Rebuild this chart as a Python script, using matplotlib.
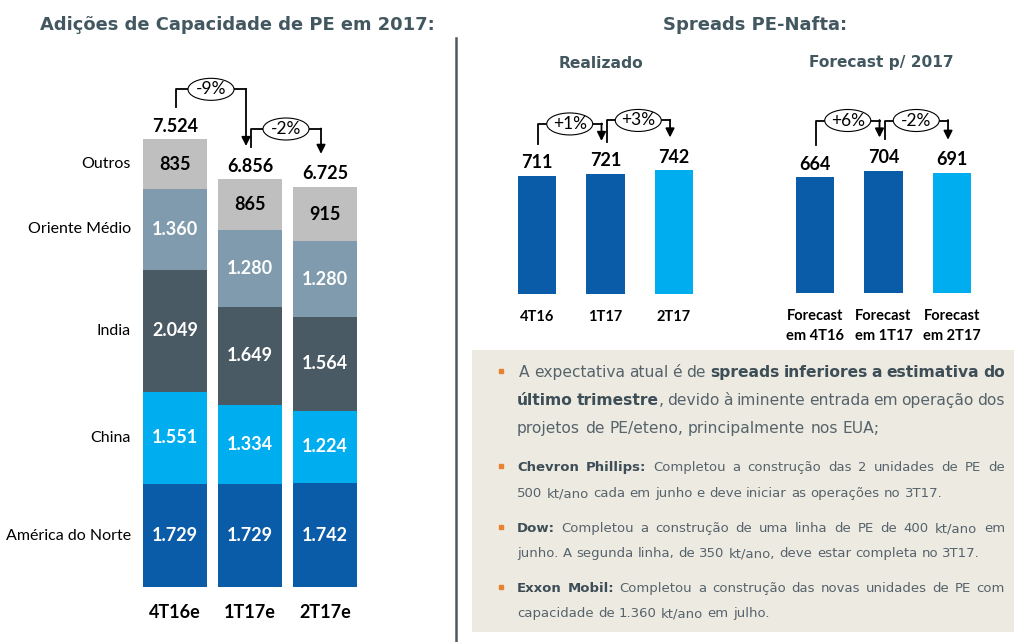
import matplotlib
matplotlib.use('Agg')
import matplotlib.pyplot as plt
from matplotlib.patches import Ellipse, Rectangle
import numpy as np

W, H = 1023, 642

# --- dados: adições de capacidade de PE (kt/ano) ---
periodos = ['4T16e', '1T17e', '2T17e']
regioes = ['América do Norte', 'China', 'India', 'Oriente Médio', 'Outros']
america_norte = [1729, 1729, 1742]
china = [1551, 1334, 1224]
india = [2049, 1649, 1564]
oriente_medio = [1360, 1280, 1280]
outros = [835, 865, 915]
totais = [7524, 6856, 6725]

# --- dados: spreads PE-Nafta (US$/t) ---
real_labels = ['4T16', '1T17', '2T17']
real_vals = [711, 721, 742]
fc_labels = ['Forecast\nem 4T16', 'Forecast\nem 1T17', 'Forecast\nem 2T17']
fc_vals = [664, 704, 691]

texto = [
    (11.2, [' A expectativa atual é de **spreads inferiores a estimativa do**',
            '**último trimestre**, devido à iminente entrada em operação dos',
            'projetos de PE/eteno, principalmente nos EUA;']),
    (9.5, ['**Chevron Phillips:** Completou a construção das 2 unidades de PE de',
           '500 kt/ano cada em junho e deve iniciar as operações no 3T17.']),
    (9.5, ['**Dow:** Completou a construção de uma linha de PE de 400 kt/ano em',
           'junho. A segunda linha, de 350 kt/ano, deve estar completa no 3T17.']),
    (9.5, ['**Exxon Mobil:** Completou a construção das novas unidades de PE com',
           'capacidade de 1.360 kt/ano em julho.']),
]

AZUL = '#0B5CA8'
AZUL_CLARO = '#00AEEF'
cores_regioes = [AZUL, AZUL_CLARO, '#4A5A65', '#7F9BAD', '#BFBFBF']
COR_TITULO = '#42575F'
FONTE = 'Lato'
FONTE_TXT = 'DejaVu Sans'


def fmt(v):
    return f'{v:,}'.replace(',', '.')


def px_rect(x0, y0, x1, y1):
    return [x0 / W, 1 - y1 / H, (x1 - x0) / W, (y1 - y0) / H]


fig = plt.figure(figsize=(W / 100, H / 100), dpi=100)

# ---------- grafico empilhado ----------
ax = fig.add_axes(px_rect(130, 60, 370, 587))
x = np.arange(len(periodos))
larg = 64 / 75
base = np.zeros(len(periodos))
for nome, vals, cor in zip(regioes, [america_norte, china, india, oriente_medio, outros], cores_regioes):
    ax.bar(x, vals, larg, bottom=base, color=cor)
    cor_txt = 'black' if nome == 'Outros' else 'white'
    for i, v in enumerate(vals):
        ax.text(i, base[i] + v / 2, fmt(v), ha='center', va='center', color=cor_txt,
                fontsize=13, fontweight='bold', family=FONTE)
    ax.annotate(nome, (-larg / 2, base[0] + vals[0] / 2), xytext=(-12 * 0.72, 0),
                textcoords='offset points', ha='right', va='center', fontsize=11.5, family=FONTE)
    base += vals
topos_esq = base.copy()
for i, t in enumerate(totais):
    ax.annotate(fmt(t), (i, topos_esq[i]), xytext=(0, 13 * 0.72), textcoords='offset points',
                ha='center', va='center', fontsize=13, fontweight='bold', family=FONTE)
ax.set_xlim(-0.6, 2.6)
ax.set_ylim(0, 527 / 0.0595)
ax.set_xticks(x, periodos)
ax.tick_params(length=0, pad=26 * 0.72, labelsize=13)
for lbl in ax.get_xticklabels():
    lbl.set_va('center')
    lbl.set_fontweight('bold')
    lbl.set_family(FONTE)
ax.set_yticks([])
for s in ax.spines.values():
    s.set_visible(False)
ax.patch.set_visible(False)


# ---------- spreads ----------
def spread_ax(rect, labels, vals, ymax, pad):
    a = fig.add_axes(rect)
    xx = np.arange(len(vals))
    a.bar(xx, vals, 38 / 68.5, color=[AZUL, AZUL, AZUL_CLARO])
    for i, v in enumerate(vals):
        a.annotate(str(v), (i, v), xytext=(0, 13 * 0.72), textcoords='offset points',
                   ha='center', va='center', fontsize=13, fontweight='bold', family=FONTE)
    a.set_xlim(-0.7, 2.7)
    a.set_ylim(0, ymax)
    a.set_xticks(xx, labels)
    a.tick_params(length=0, pad=pad, labelsize=10.5)
    for lbl in a.get_xticklabels():
        lbl.set_va('center')
        lbl.set_fontweight('bold')
        lbl.set_family(FONTE)
        lbl.set_linespacing(1.5)
    a.set_yticks([])
    for s in a.spines.values():
        s.set_visible(False)
    a.patch.set_visible(False)
    return a


ax_r = spread_ax(px_rect(489, 60, 722, 294), real_labels, real_vals, 234 / 0.1665, 23 * 0.72)
ax_f = spread_ax(px_rect(767, 60, 1000, 293), fc_labels, fc_vals, 233 / 0.174, 33 * 0.72)

# ---------- camada de anotacoes em pixels ----------
ov = fig.add_axes([0, 0, 1, 1])
ov.set_xlim(0, W)
ov.set_ylim(H, 0)
ov.axis('off')
ov.set_zorder(5)


def to_px(a, xv, yv):
    X, Y = a.transData.transform((xv, yv))
    return X, H - Y


def colchete(a, i, j, ti, tj):
    xi, yi = to_px(a, i, ti)
    xj, yj = to_px(a, j, tj)
    pct = (tj / ti - 1) * 100
    y0, yh, y1 = yi - 32, min(yi, yj) - 50, yj - 33
    xs, xe = xi + 1, xj - 4
    ov.plot([xs, xs, xe], [y0, yh, yh], color='black', lw=1.3)
    ov.annotate('', xy=(xe, y1), xytext=(xe, yh - 0.5),
                arrowprops=dict(arrowstyle='-|>', color='black', lw=1.3, mutation_scale=13,
                                shrinkA=0, shrinkB=0))
    ov.add_patch(Ellipse(((xs + xe) / 2, yh), 46, 22, fc='white', ec='black', lw=0.8, zorder=3))
    ov.text((xs + xe) / 2, yh, f'{pct:+.0f}%', ha='center', va='center', fontsize=12.5,
            family=FONTE, zorder=4)


for i in range(2):
    colchete(ax, i, i + 1, topos_esq[i], topos_esq[i + 1])
    colchete(ax_r, i, i + 1, real_vals[i], real_vals[i + 1])
    colchete(ax_f, i, i + 1, fc_vals[i], fc_vals[i + 1])

# titulos
ov.text(237, 25, 'Adições de Capacidade de PE em 2017:', ha='center', va='center',
        fontsize=12.9, fontweight='bold', color=COR_TITULO, family=FONTE_TXT)
ov.text(755, 25, 'Spreads PE-Nafta:', ha='center', va='center',
        fontsize=13, fontweight='bold', color=COR_TITULO, family=FONTE_TXT)
ov.text(601, 63, 'Realizado', ha='center', va='center', fontsize=11.2, fontweight='bold',
        color=COR_TITULO, family=FONTE_TXT)
ov.text(881, 63, 'Forecast p/ 2017', ha='center', va='center', fontsize=11.1, fontweight='bold',
        color=COR_TITULO, family=FONTE_TXT)

# divisoria
ov.plot([456, 456], [38, H], color='#4D5960', lw=1.8)

# ---------- caixa de texto ----------
ov.add_patch(Rectangle((472, 350), 1014 - 472, 632 - 350, fc='#EDEAE2', ec='none', zorder=0))

renderer = fig.canvas.get_renderer()


def parse(linha):
    palavras, negrito = [], False
    for raw in linha.split(' '):
        if raw == '':
            continue
        runs = []
        for k, p in enumerate(raw.split('**')):
            if k > 0:
                negrito = not negrito
            if p:
                runs.append((p, negrito))
        palavras.append(runs)
    return palavras


def largura(s, size, bold):
    t = ov.text(0, 0, s, fontsize=size, fontweight='bold' if bold else 'normal', family=FONTE_TXT)
    w = t.get_window_extent(renderer).width
    t.remove()
    return w


def escreve_linha(linha, x0, x1, y, size, justifica):
    palavras = parse(linha)
    larguras = [[largura(p, size, b) for p, b in runs] for runs in palavras]
    total = sum(sum(l) for l in larguras)
    espaco = largura('a a', size, False) - largura('aa', size, False)
    if justifica and len(palavras) > 1:
        espaco = (x1 - x0 - total) / (len(palavras) - 1)
    xc = x0
    for runs, ls in zip(palavras, larguras):
        for (p, b), w in zip(runs, ls):
            ov.text(xc, y, p, fontsize=size, va='baseline', ha='left', family=FONTE_TXT,
                    fontweight='bold' if b else 'normal',
                    color='#3E4E57' if b else '#56636B')
            xc += w
        xc += espaco


linhas_y = [[372, 400, 428], [467, 493], [528, 553], [588, 613]]
for (size, linhas), ys in zip(texto, linhas_y):
    ov.plot(501, ys[0] - 1, marker='s', ms=3, color='#E8822E')
    for k, (linha, y) in enumerate(zip(linhas, ys)):
        x0 = 517 if not linha.startswith(' ') else 519
        escreve_linha(linha, x0, 1005, y + size * 0.45, size, k < len(linhas) - 1)

fig.savefig('out.png', dpi=100)
